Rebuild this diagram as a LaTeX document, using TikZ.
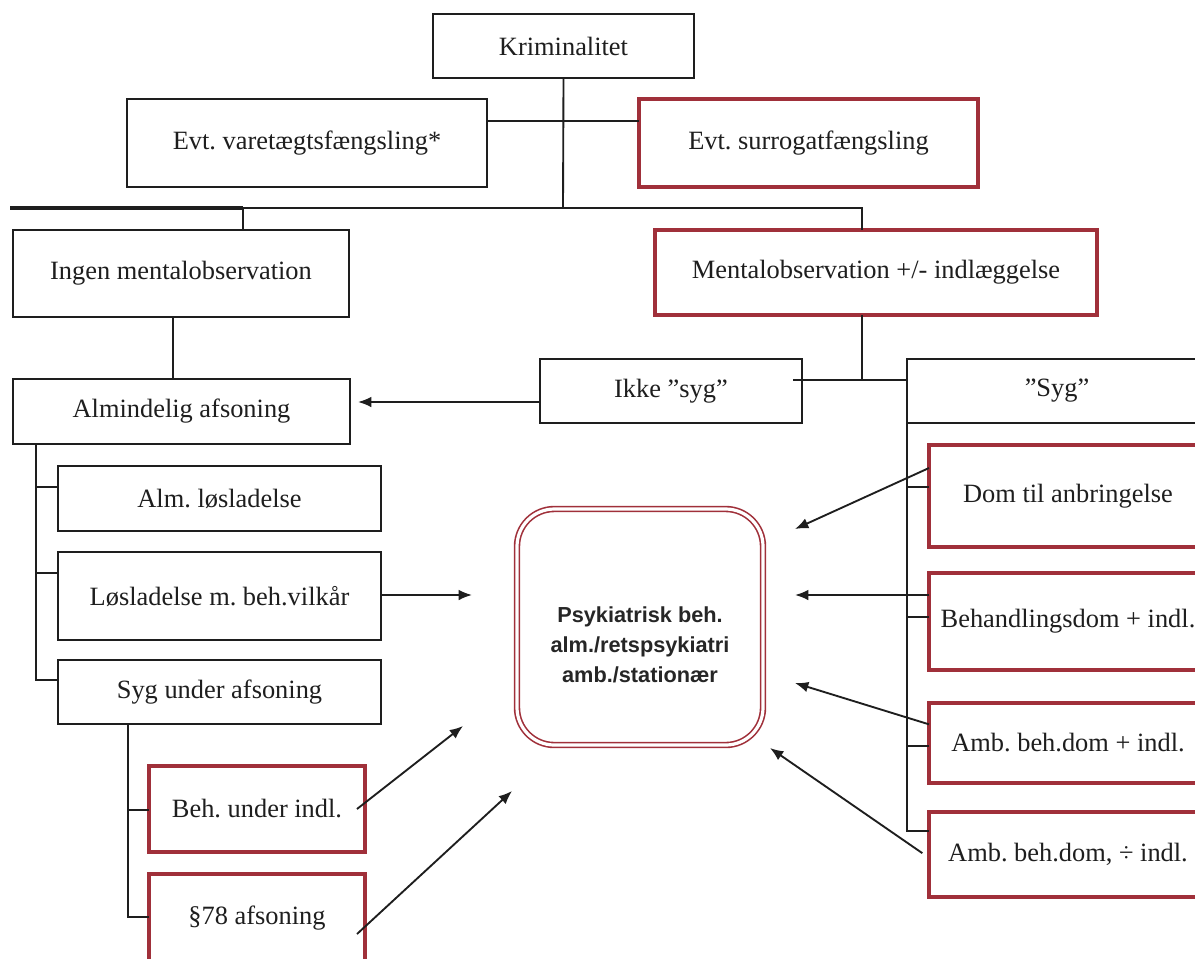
\documentclass[tikz,border=0pt]{standalone}
\usepackage{fontspec}
\setmainfont{Liberation Serif}
\setsansfont{Liberation Sans}
\usetikzlibrary{arrows.meta}
\definecolor{boxred}{RGB}{160,48,58}
\definecolor{ink}{RGB}{30,30,30}
\frenchspacing
% box from corner (x1,y1) to (x2,y2), in pixel units
\newcommand{\mybox}[7]{%
  \pgfmathsetmacro{\bxcx}{(#3+#5)/2}\pgfmathsetmacro{\bxcy}{(#4+#6)/2}%
  \pgfmathsetmacro{\bxw}{(#5-#3)*0.75}\pgfmathsetmacro{\bxh}{(#6-#4)*0.75}%
  \node[#2,minimum width=\bxw pt,minimum height=\bxh pt] (#1) at (\bxcx,\bxcy) {#7};}
\begin{document}
\begin{tikzpicture}[x=0.75pt,y=-0.75pt,
  every node/.style={font=\fontsize{19.8}{24}\selectfont,text=ink},
  bbox/.style={draw=ink,line width=1.5pt,inner sep=0pt,outer sep=0pt,fill=white},
  rbox/.style={draw=boxred,line width=2.4pt,inner sep=0pt,outer sep=0pt,fill=white},
  conn/.style={draw=ink,line width=1.4pt},
  arr/.style={conn,-{Latex[length=10pt,width=8pt]}},
]
\useasboundingbox (0,0) rectangle (1195,958);
\fill[white] (0,0) rectangle (1195,958);

% boxes
\mybox{krim}{bbox}{433}{14}{694}{78}{Kriminalitet}
\mybox{vare}{bbox}{127}{99}{487}{187}{Evt. varetægtsfængsling*}
\mybox{surr}{rbox}{639}{99}{978}{187}{Evt. surrogatfængsling}
\mybox{ingen}{bbox}{13}{230}{349}{317}{Ingen mentalobservation}
\mybox{mental}{rbox}{655}{230}{1097}{315}{Mentalobservation +/- indlæggelse}
\mybox{alm}{bbox}{13}{379}{350}{444}{Almindelig afsoning}
\mybox{ikke}{bbox}{540}{359}{802}{423}{Ikke ”syg”}
\mybox{syg}{bbox}{907}{359}{1207}{423}{”Syg”}
\mybox{alos}{bbox}{58}{466}{381}{531}{Alm. løsladelse}
\mybox{lmb}{bbox}{58}{552}{381}{640}{Løsladelse m. beh.vilkår}
\mybox{sygu}{bbox}{58}{660}{381}{724}{Syg under afsoning}
\mybox{behu}{rbox}{149}{766}{365}{852}{Beh. under indl.}
\mybox{p78}{rbox}{149}{874}{365}{962}{§78 afsoning}
\mybox{dom}{rbox}{929}{445}{1207}{547}{Dom til anbringelse}
\mybox{behd}{rbox}{929}{573}{1207}{670}{Behandlingsdom + indl.}
\mybox{amb1}{rbox}{929}{703}{1207}{783}{Amb. beh.dom + indl.}
\mybox{amb2}{rbox}{929}{812}{1207}{897}{Amb. beh.dom, ÷ indl.}
\mybox{psy}{draw=boxred,double=white,double distance=2.4pt,line width=1.2pt,
      rounded corners=28pt,inner sep=0pt,outer sep=0pt,
      font=\sffamily\bfseries\fontsize{16.3}{22.5}\selectfont,align=center,text=black!85}%
      {517}{509}{763}{745}{\mbox{}\\[16.5pt]Psykiatrisk beh.\\alm./retspsykiatri\\amb./stationær}

% coordinates for junctions and free ends
\coordinate (h1) at (563,121);
\coordinate (busL) at (10,208);
\coordinate (busI) at (243,208);
\coordinate (busK) at (563,208);
\coordinate (busR) at (862,208);
\coordinate (ia) at (173,380);
\coordinate (j) at (862,380);
\coordinate (ik) at (540,402);
\coordinate (lt1) at (36,487);
\coordinate (lt2) at (36,573);
\coordinate (lf) at (36,680);
\coordinate (st) at (128,810);
\coordinate (sf) at (128,917);
\coordinate (rt1) at (907,487);
\coordinate (rt2) at (907,617);
\coordinate (rt3) at (907,746);
\coordinate (rf) at (907,831);
\coordinate (tipL) at (472,595);
\coordinate (tipB) at (463,726);
\coordinate (tipP) at (512,791);
\coordinate (tipD) at (795,529);
\coordinate (tipH) at (795,595);
\coordinate (tipA) at (795,683);
\coordinate (tipN) at (770,748);

% tree lines
\draw[conn] (krim.south) -- (busK);
\draw[conn] (h1 -| vare.east) -- (h1 -| surr.west);
\draw[conn,line width=2.6pt] (busL) -- (busI);
\draw[conn] (busI) -- (busR) -- (busR |- mental.north);
\draw[conn] (busI) -- (busI |- ingen.north);
\draw[conn] (ingen.south -| ia) -- (alm.north -| ia);
\draw[conn] (mental.south -| j) -- (j);
\draw[conn] ([xshift=-6.75pt]ikke.east |- j) -- (syg.west |- j);

\draw[conn] (alm.south -| lf) -- (lf) -- (lf -| sygu.west);
\draw[conn] (lt1) -- (lt1 -| alos.west);
\draw[conn] (lt2) -- (lt2 -| lmb.west);
\draw[conn] (sygu.south -| sf) -- (sf) -- (sf -| p78.west);
\draw[conn] (st) -- (st -| behu.west);

\draw[conn] (syg.south west) -- (rf) -- (rf -| amb2.west);
\draw[conn] (rt1) -- (rt1 -| dom.west);
\draw[conn] (rt2) -- (rt2 -| behd.west);
\draw[conn] (rt3) -- (rt3 -| amb1.west);

% arrows
\draw[arr,shorten >=6pt] (ikke.west |- ik) -- (ik -| alm.east);
\draw[arr] (lmb.east |- tipL) -- (tipL);
\draw[arr] ([xshift=-6pt]behu.east) -- (tipB);
\draw[arr] ([xshift=-6pt,yshift=-12pt]p78.east) -- (tipP);
\draw[arr] ([yshift=21pt]dom.west) -- (tipD);
\draw[arr] (behd.west |- tipH) -- (tipH);
\draw[arr] ([yshift=14pt]amb1.west) -- (tipA);
\draw[arr] ([xshift=-5pt,yshift=1pt]amb2.west) -- (tipN);
\end{tikzpicture}
\end{document}
